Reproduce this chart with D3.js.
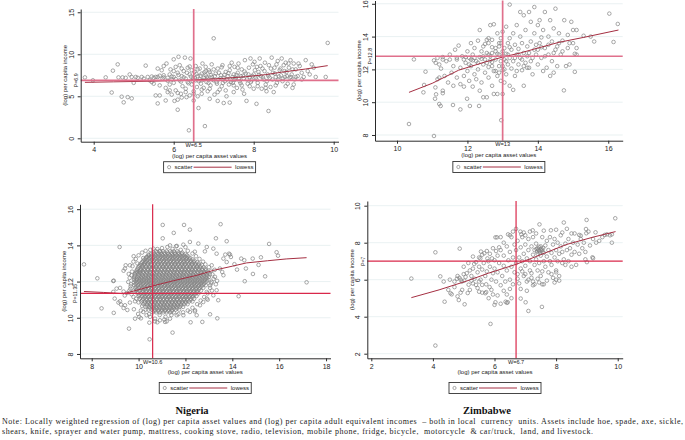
<!DOCTYPE html>
<html>
<head>
<meta charset="utf-8">
<script src="https://cdn.jsdelivr.net/npm/d3@7"></script>
<style>
  html, body { margin: 0; padding: 0; background: #ffffff; }
  svg { display: block; }
</style>
</head>
<body>
<svg id="chart" width="685" height="440"></svg>
<script>
// ---------------- DATA ----------------
// Panel 1 (top-left)
const p1XTicks = [4, 6, 8, 10];
const p1YTicks = [0, 5, 10, 15];
const p1W = 6.5, p1P = 6.9;
const p1Lowess = [[3.78,6.66],[4.5,6.72],[5.5,6.8],[6.5,6.94],[7.2,7.12],[7.8,7.33],[8.3,7.58],[8.7,7.87],[9.3,8.25],[9.85,8.65]];
const p1Points = [
[3.78,7.25],[3.98,6.9],[4.3,7.25],[4.45,5.45],[4.48,8.05],[4.6,8.8],[4.62,7.25],[4.7,4.95],[4.75,4.28],[4.72,7.25],[4.8,7.2],[4.85,4.9],[4.95,4.75],[4.9,7.6],[4.95,7.3],[5.0,6.6],[5.05,7.3],[5.1,7.2],[5.2,7.3],[5.25,7.1],[5.3,8.65],[5.35,7.3],[5.4,6.9],[5.45,7.35],[5.5,6.5],[5.5,7.2],[5.55,5.1],[5.6,4.15],[5.6,7.3],[5.6,8.3],[5.65,5.1],[5.65,6.3],[5.7,8.1],[5.72,7.1],[5.75,7.5],[5.75,8.6],[5.8,4.5],[5.8,6.0],[5.82,8.9],[5.85,7.2],[5.85,5.5],[5.9,7.6],[5.9,6.4],[5.92,8.2],[5.95,7.0],[5.95,5.2],[6.0,9.4],[6.0,7.3],[6.0,6.6],[6.02,4.45],[6.05,8.5],[6.05,5.7],[6.1,3.4],[6.1,7.8],[6.1,4.6],[6.12,9.7],[6.15,6.9],[6.15,8.7],[6.18,5.3],[6.2,7.4],[6.2,4.85],[6.22,6.2],[6.25,8.0],[6.28,9.6],[6.3,7.1],[6.3,5.9],[6.32,4.9],[6.35,8.4],[6.35,6.7],[6.38,0.95],[6.4,7.6],[6.4,5.1],[6.42,9.5],[6.45,6.4],[6.45,8.1],[6.48,7.2],[6.5,5.6],[6.5,4.5],[6.52,7.9],[6.55,6.9],[6.55,8.6],[6.58,6.1],[6.6,7.4],[6.6,5.0],[6.62,3.6],[6.65,7.0],[6.65,8.3],[6.68,6.5],[6.7,7.7],[6.7,5.3],[6.72,8.9],[6.75,7.2],[6.75,6.0],[6.78,1.45],[6.8,7.5],[6.8,8.5],[6.82,6.7],[6.85,5.6],[6.85,7.1],[6.88,8.1],[6.9,7.9],[6.9,4.7],[6.92,6.3],[6.95,7.3],[6.95,8.8],[7.0,11.9],[7.0,6.9],[7.02,5.2],[7.05,7.7],[7.08,6.5],[7.1,8.3],[7.1,4.45],[7.12,7.0],[7.15,5.8],[7.18,7.5],[7.2,6.2],[7.22,8.7],[7.25,4.2],[7.25,7.2],[7.28,6.8],[7.3,7.9],[7.32,5.0],[7.35,7.4],[7.38,6.4],[7.4,4.25],[7.4,8.1],[7.42,7.0],[7.45,9.0],[7.48,6.6],[7.5,7.6],[7.5,5.5],[7.52,8.5],[7.55,7.2],[7.58,6.0],[7.6,7.8],[7.62,8.9],[7.65,6.8],[7.68,7.4],[7.7,8.2],[7.72,5.8],[7.75,7.1],[7.76,5.3],[7.78,9.3],[7.8,7.7],[7.82,4.45],[7.85,6.5],[7.88,8.4],[7.9,7.3],[7.92,9.5],[7.95,6.9],[7.98,8.8],[8.0,7.6],[8.0,5.9],[8.02,9.1],[8.05,7.2],[8.07,4.1],[8.08,8.5],[8.1,6.6],[8.12,7.9],[8.15,9.5],[8.18,7.4],[8.2,5.9],[8.22,8.3],[8.25,7.0],[8.28,9.0],[8.3,6.4],[8.32,5.6],[8.35,7.6],[8.37,3.25],[8.38,8.7],[8.4,7.2],[8.42,6.1],[8.45,9.6],[8.48,7.8],[8.5,5.5],[8.52,8.4],[8.55,7.3],[8.58,6.6],[8.6,9.2],[8.62,7.0],[8.65,8.1],[8.68,7.5],[8.7,9.5],[8.72,6.8],[8.75,8.7],[8.78,7.3],[8.8,9.0],[8.82,7.9],[8.85,6.5],[8.88,8.4],[8.9,7.2],[8.92,9.3],[8.95,7.6],[8.97,6.0],[9.0,8.9],[9.02,7.0],[9.05,8.2],[9.1,7.4],[9.15,8.6],[9.2,7.8],[9.3,9.3],[9.35,8.0],[9.45,8.8],[9.5,8.4],[9.55,7.3],[9.8,7.3],[9.85,11.35],
[6.05,7.05],[6.12,7.55],[6.18,6.75],[6.25,7.25],[6.33,7.8],[6.37,6.55],[6.43,7.35],[6.47,6.85],[6.53,7.15],[6.57,7.65],[6.63,6.8],[6.67,7.45],[6.73,6.95],[6.77,7.85],[6.83,7.3],[6.87,6.6],[6.93,7.55],[6.97,7.0],[7.03,7.4],[7.07,6.7],[7.13,7.8],[7.17,7.15],[7.23,6.6],[7.27,7.55],[7.33,7.0],[7.37,7.75],[7.43,6.7],[7.47,7.3],[7.53,6.95],[7.57,7.55],[7.63,7.1],[7.67,6.55],[7.73,7.45],[7.77,7.95],[7.83,7.0],[7.87,7.6],[7.93,6.7],[7.97,7.4],[8.03,8.1],[8.07,7.0],[8.13,7.55],[8.17,8.6],[8.23,7.25],[8.27,8.0],[8.33,6.8],[8.37,7.4],[8.43,8.3],[8.47,7.0],[8.53,7.7],[8.57,8.8],[8.63,7.35],[8.67,8.3],[8.73,7.1],[8.77,8.0],[8.83,7.4],[8.87,8.9],[8.93,7.3],[8.97,8.2],[9.05,7.3],[9.12,8.9],[9.25,7.3],[9.4,7.6],[5.95,7.35],[5.85,6.85],[5.75,7.25],[5.65,7.45],[5.55,7.3],[5.45,6.7],[6.0,8.0],[6.2,8.3],[6.4,8.55],[6.6,8.2],[6.8,8.0],[7.0,8.2],[7.2,8.45],[7.4,8.6],[7.6,8.4],[5.9,5.7],[6.1,5.4],[6.3,5.5],[6.5,5.3],[6.7,5.8],[6.9,5.9],[7.1,5.5],[7.3,5.7],[7.5,6.3],[7.7,6.3],[7.9,6.2],[8.1,6.2],[8.3,6.0],[8.55,6.3],[8.8,6.2],[9.0,6.4],[9.2,7.0]
];

// Panel 2 (top-right)
const p2XTicks = [10, 12, 14, 16];
const p2YTicks = [8, 10, 12, 14, 16];
const p2W = 13, p2P = 12.8;
const p2Lowess = [[10.34,10.6],[11,11.15],[11.75,11.95],[12.5,12.45],[13,12.75],[13.5,13.0],[14,13.3],[14.6,13.65],[15.3,13.95],[16.29,14.4]];
const p2Points = [
[10.34,8.67],[11.05,7.94],[12.96,8.9],[13.2,15.95],[16.03,15.4],[16.27,14.77],[16.15,13.67],[14.74,10.72],[10.48,12.61],[10.81,11.86],[10.75,10.6],[10.77,11.05],[11.09,10.9],[11.11,10.48],[11.08,10.21],[11.2,9.89],[11.24,9.77],[11.59,9.83],[11.8,9.56],[11.99,10.21],[12.07,9.77],[12.33,9.77],
[11.05,12.55],[11.1,12.4],[11.15,12.7],[11.2,12.3],[11.15,11.4],[11.2,11.5],[11.25,12.05],[11.3,12.6],[11.3,10.7],[11.3,10.55],[11.35,11.6],[11.4,12.5],[11.45,11.2],[11.5,12.9],[11.55,11.8],[11.6,12.2],[11.6,11.0],[11.65,13.2],[11.7,12.6],[11.7,11.5],[11.75,13.45],[11.8,11.1],[11.8,12.1],[11.85,12.8],[11.9,11.6],[11.9,10.95],[11.95,12.4],[12.0,13.1],[12.0,11.9],[12.05,12.7],[12.05,11.3],[12.1,13.6],[12.1,12.2],[12.15,10.95],[12.15,12.9],[12.2,11.7],[12.2,13.3],[12.25,12.5],[12.25,11.4],[12.3,13.75],[12.3,12.0],[12.35,14.4],[12.35,12.75],[12.35,10.7],[12.4,11.2],[12.4,13.1],[12.45,12.3],[12.45,10.3],[12.5,13.55],[12.5,11.8],[12.5,12.6],[12.55,10.3],[12.55,13.0],[12.6,12.15],[12.6,13.9],[12.6,11.5],[12.65,12.8],[12.65,14.7],[12.7,11.0],[12.7,13.35],[12.7,12.45],[12.75,14.75],[12.75,11.9],[12.75,10.5],[12.8,13.1],[12.8,12.6],[12.85,14.2],[12.85,11.6],[12.85,10.5],[12.9,13.6],[12.9,12.2],[12.9,12.9],[12.95,11.3],[12.95,13.9],[12.95,12.5],[13.0,12.8],[13.0,14.3],[13.0,11.95],[13.0,10.5],[13.05,13.3],[13.05,12.6],[13.05,11.2],[13.1,14.6],[13.1,12.95],[13.1,11.7],[13.15,13.6],[13.15,12.3],[13.2,13.9],[13.2,12.7],[13.2,11.0],[13.25,13.2],[13.25,12.05],[13.3,14.2],[13.3,12.5],[13.3,10.75],[13.35,13.5],[13.35,11.6],[13.4,12.9],[13.4,14.7],[13.4,11.9],[13.45,13.25],[13.45,12.3],[13.5,15.5],[13.5,14.0],[13.5,12.7],[13.55,13.6],[13.55,11.95],[13.6,15.3],[13.6,13.0],[13.6,11.0],[13.65,14.4],[13.65,12.4],[13.7,13.4],[13.7,12.8],[13.75,15.5],[13.75,12.1],[13.8,14.9],[13.8,13.7],[13.8,12.5],[13.85,11.7],[13.9,15.8],[13.9,13.2],[13.9,14.2],[13.95,12.9],[14.0,14.7],[14.0,12.3],[14.05,13.6],[14.05,15.0],[14.1,12.7],[14.1,13.95],[14.15,11.9],[14.15,14.4],[14.2,13.3],[14.2,15.5],[14.25,12.1],[14.3,14.0],[14.3,12.9],[14.35,11.6],[14.35,15.0],[14.4,13.7],[14.4,12.5],[14.45,14.5],[14.45,11.8],[14.5,13.2],[14.5,15.7],[14.55,12.2],[14.6,14.2],[14.6,13.6],[14.65,12.9],[14.7,13.75],[14.75,15.0],[14.8,12.2],[14.85,14.1],[14.9,13.6],[14.9,12.3],[14.95,14.9],[15.0,14.4],[15.05,11.85],[15.1,13.3],[15.1,12.9],[15.1,14.4],[15.3,14.05],[15.5,14.0],[15.6,13.7],
[11.3,12.75],[11.5,12.6],[11.7,12.7],[11.9,12.6],[12.1,12.6],[12.6,12.9],[12.7,13.0],[12.8,13.3],[12.9,13.4],[13.0,13.1],[12.95,13.6],[12.85,12.95],[13.1,12.5],[13.15,12.9],[13.2,13.35],[12.7,12.2],[12.8,11.9],[12.9,11.8],[13.0,12.2],[13.05,12.0],[12.55,12.4],[12.65,12.55],[12.45,12.8],[12.4,12.65],[12.3,12.4],[12.2,12.7],[12.15,12.55],[12.05,12.3],[11.95,12.75],[12.6,13.6],[12.7,13.8],[12.55,13.8],[12.45,13.4],[13.35,12.7],[13.45,12.9],[13.55,12.6],[13.6,12.2],[13.7,12.1],[13.75,13.0],[13.85,12.7],[13.95,13.5],[14.0,13.2],[14.1,13.35],[14.2,12.8],[14.3,13.5],[14.45,13.0],[14.55,13.4],[14.7,13.1],[14.85,13.3],[15.0,13.6],[15.05,12.95]
];

// Panel 3 (Nigeria)
const p3XTicks = [8, 10, 12, 14, 16, 18];
const p3YTicks = [8, 10, 12, 14, 16];
const p3W = 10.6, p3P = 11.35;
const p3Lowess = [[7.67,11.45],[8.5,11.4],[9.35,11.33],[10,11.55],[10.6,11.76],[11.5,12.05],[12.5,12.35],[13.2,12.62],[14,12.85],[14.6,13.03],[15.5,13.15],[16.3,13.25],[17.17,13.32]];
const p3Outer = [
[7.67,12.95],[8.24,12.18],[8.42,10.52],[8.94,12.05],[8.94,10.27],[9.19,13.91],[9.59,9.4],[10.47,8.81],[11.03,15.13],[11.94,15.13],[11.5,14.69],[12.19,14.87],[13.5,15.17],[11.03,14.39],[13.3,14.39],[13.76,14.23],[15.57,14.08],[15.89,13.62],[15.95,13.43],[17.17,11.96],[14.53,12.02],[14.27,11.19],[15.4,12.29],[15.12,12.92],[15.22,13.34],[14.87,13.27],[14.88,12.42],[14.58,12.72],[14.38,13.27],[14.51,13.18],[14.2,12.66],[14.09,12.96],[13.7,13.49],[13.86,13.54],[13.94,13.36],[13.57,12.53],[13.35,12.04],[13.13,11.5],[13.05,10.19],[13.36,9.97],[12.72,9.77],[12.22,9.75],[11.45,9.18],[10.7,9.8],[10.8,9.75],[11.1,9.9],[11.2,9.8],[10.46,9.73],[10.1,9.97],[8.98,11.06],[9.58,12.42],[9.36,12.6],[9.45,12.9],[9.79,13.4],
[8.92,12.03],[9.41,11.23],[9.51,11.37],[9.61,11.5],[9.66,11.74],[9.06,11.61],[9.21,11.65],[9.36,11.45],[8.92,11.43],[9.14,10.84],[9.25,10.73],[9.42,10.69],[9.36,10.54],[9.21,10.91],[9.78,11.15],[9.85,10.91],[9.63,10.84],[9.52,10.43],[9.8,10.47],[9.98,10.21],[10.2,10.32],[10.34,10.14],[9.85,9.95],[10.03,10.05],[9.42,12.72],[9.63,12.9],[9.7,12.35],[9.92,12.16],[9.56,11.98],[9.95,12.5],[10.06,12.62],[10.13,12.9],[10.27,13.08],[10.34,13.36],[10.42,13.49],[10.63,13.82],[10.91,13.67],[11.23,13.91],[11.34,14.0],[11.63,13.97],[11.91,14.04],[12.19,14.19],[12.55,14.1],[12.91,13.91],[12.83,13.67],[13.19,13.82],[13.33,13.54],[13.62,13.27],[13.76,13.08],[13.9,13.49],[13.12,12.9],[13.47,12.72],[13.62,12.35],[13.26,12.26],[13.12,11.98],[13.33,11.52],[13.19,11.24],[12.91,11.06],[12.76,10.87],[12.62,10.69],[12.41,10.41],[12.19,10.32],[11.91,10.14],[11.63,10.14],[11.34,9.95],[11.13,9.77],[10.91,9.86],[10.7,9.95],[10.49,10.05],[12.91,11.43],[13.05,11.79],[13.4,10.97],[12.48,10.14],
[9.62,12.2],[9.68,11.85],[9.72,12.55],[9.65,11.6],[9.74,12.85],[9.7,11.3],[9.78,13.1],[9.88,13.25],[10.0,13.45],[10.15,13.6],[10.3,13.7],[10.5,13.75],[10.8,13.8],[11.0,13.85],[11.45,13.8],[11.8,13.75],[12.1,13.7],[12.3,13.55],[12.45,13.4],[12.6,13.25],[12.75,13.1],[12.85,12.95],[13.0,12.8],[13.1,12.6],[13.15,12.4],[13.2,12.15],[13.1,11.9],[13.05,11.65],[12.95,11.35],[12.8,11.15],[12.65,10.95],[12.5,10.75],[12.3,10.55],[12.1,10.4],[11.9,10.3],[11.7,10.2],[10.45,10.2],[10.3,10.45],[10.15,10.65],[10.0,10.85],[9.9,11.05],[9.8,11.5],[11.4,10.15],[10.9,10.15],[11.15,10.05],[12.4,13.65],[11.6,13.95],[12.0,13.9],[10.2,13.3],[9.95,13.0],[13.25,12.65],[13.3,11.85],[12.95,11.0],[12.4,10.35],[10.1,10.4]
];
// dense core of the Nigeria cloud, one row per income level: [y, [x values]]
const p3CoreRows = [
[13.675,[10.75,10.9,11.05,11.2,11.35,11.5,11.65]],
[13.6,[10.62,10.78,10.95,11.1,11.24,11.4,11.55,11.7,11.86]],
[13.525,[10.53,10.68,10.83,10.98,11.12,11.27,11.42,11.56,11.71,11.85,12.0]],
[13.45,[10.45,10.6,10.74,10.9,11.03,11.18,11.33,11.47,11.62,11.77,11.92,12.06]],
[13.375,[10.39,10.54,10.68,10.83,10.97,11.12,11.26,11.41,11.55,11.7,11.84,11.99,12.13]],
[13.3,[10.32,10.47,10.61,10.76,10.9,11.05,11.19,11.34,11.48,11.63,11.77,11.92,12.06,12.2]],
[13.225,[10.26,10.42,10.57,10.71,10.86,11.0,11.15,11.29,11.44,11.58,11.73,11.87,12.02,12.16,12.31]],
[13.15,[10.2,10.35,10.5,10.64,10.79,10.93,11.08,11.22,11.37,11.51,11.66,11.8,11.95,12.09,12.24,12.38]],
[13.075,[10.15,10.32,10.47,10.61,10.76,10.9,11.05,11.19,11.34,11.48,11.63,11.77,11.92,12.06,12.21,12.35,12.5]],
[13.0,[10.1,10.25,10.4,10.54,10.69,10.83,10.98,11.12,11.27,11.41,11.56,11.7,11.85,11.99,12.14,12.28,12.43,12.57]],
[12.925,[10.06,10.24,10.39,10.53,10.68,10.82,10.97,11.11,11.26,11.4,11.55,11.69,11.84,11.98,12.13,12.27,12.42,12.56,12.7]],
[12.85,[10.02,10.17,10.32,10.46,10.61,10.75,10.9,11.04,11.19,11.33,11.48,11.62,11.77,11.91,12.06,12.2,12.35,12.49,12.64]],
[12.775,[9.98,10.17,10.31,10.46,10.6,10.75,10.89,11.04,11.18,11.33,11.47,11.62,11.76,11.91,12.05,12.2,12.34,12.49,12.63,12.78]],
[12.7,[9.95,10.1,10.24,10.39,10.53,10.68,10.82,10.97,11.11,11.26,11.4,11.55,11.69,11.84,11.98,12.13,12.27,12.42,12.56,12.71,12.85]],
[12.625,[9.92,10.11,10.26,10.4,10.55,10.69,10.84,10.98,11.13,11.27,11.42,11.56,11.71,11.85,12.0,12.14,12.29,12.43,12.58,12.72,12.87]],
[12.55,[9.9,10.04,10.19,10.33,10.48,10.62,10.77,10.91,11.06,11.2,11.35,11.49,11.64,11.78,11.93,12.07,12.22,12.36,12.51,12.65,12.8,12.94]],
[12.475,[9.87,10.07,10.21,10.36,10.5,10.65,10.79,10.94,11.08,11.23,11.37,11.52,11.66,11.81,11.95,12.1,12.24,12.39,12.53,12.68,12.82,12.97]],
[12.4,[9.85,10.0,10.14,10.29,10.43,10.58,10.72,10.87,11.01,11.16,11.3,11.45,11.59,11.74,11.88,12.03,12.17,12.32,12.46,12.61,12.75,12.9,13.04]],
[12.325,[9.83,10.03,10.18,10.32,10.47,10.61,10.76,10.9,11.05,11.19,11.34,11.48,11.63,11.77,11.92,12.06,12.21,12.35,12.5,12.64,12.79,12.93]],
[12.25,[9.82,9.96,10.11,10.25,10.4,10.54,10.69,10.83,10.98,11.12,11.27,11.41,11.56,11.7,11.85,11.99,12.14,12.28,12.43,12.57,12.72,12.86,13.0]],
[12.175,[9.81,10.02,10.16,10.31,10.45,10.6,10.74,10.89,11.03,11.18,11.32,11.47,11.61,11.76,11.9,12.05,12.19,12.34,12.48,12.63,12.77,12.91]],
[12.1,[9.8,9.94,10.09,10.23,10.38,10.52,10.67,10.81,10.96,11.1,11.25,11.39,11.54,11.68,11.83,11.97,12.12,12.26,12.41,12.55,12.7,12.84,12.98]],
[12.025,[9.87,10.02,10.16,10.31,10.45,10.6,10.74,10.89,11.03,11.18,11.32,11.47,11.61,11.76,11.9,12.05,12.19,12.34,12.48,12.63,12.77,12.92]],
[11.95,[9.8,9.95,10.09,10.24,10.38,10.53,10.67,10.82,10.96,11.11,11.25,11.4,11.54,11.69,11.83,11.98,12.12,12.27,12.41,12.56,12.7,12.85]],
[11.875,[9.88,10.04,10.18,10.33,10.47,10.62,10.76,10.91,11.05,11.2,11.34,11.49,11.63,11.78,11.92,12.07,12.21,12.36,12.5,12.65,12.79]],
[11.8,[9.82,9.97,10.11,10.26,10.4,10.55,10.69,10.84,10.98,11.13,11.27,11.42,11.56,11.71,11.85,12.0,12.14,12.29,12.43,12.58,12.72,12.87]],
[11.725,[9.9,10.07,10.22,10.36,10.51,10.65,10.8,10.94,11.09,11.23,11.38,11.52,11.67,11.81,11.96,12.1,12.25,12.39,12.54,12.68]],
[11.65,[9.86,10.0,10.15,10.29,10.44,10.58,10.73,10.87,11.02,11.16,11.31,11.45,11.6,11.74,11.89,12.03,12.18,12.32,12.47,12.61,12.76]],
[11.575,[9.93,10.12,10.26,10.41,10.55,10.7,10.84,10.99,11.13,11.28,11.42,11.57,11.71,11.86,12.0,12.15,12.29,12.44,12.58]],
[11.5,[9.9,10.05,10.19,10.34,10.48,10.63,10.77,10.92,11.06,11.21,11.35,11.5,11.64,11.79,11.93,12.08,12.22,12.37,12.51,12.66]],
[11.425,[9.98,10.17,10.31,10.46,10.6,10.75,10.89,11.04,11.18,11.33,11.47,11.62,11.76,11.91,12.05,12.2,12.34,12.49]],
[11.35,[9.95,10.1,10.24,10.39,10.53,10.68,10.82,10.97,11.11,11.26,11.4,11.55,11.69,11.84,11.98,12.13,12.27,12.42,12.56]],
[11.275,[10.03,10.22,10.36,10.51,10.65,10.8,10.94,11.09,11.23,11.38,11.52,11.67,11.81,11.96,12.1,12.25,12.39]],
[11.2,[10.0,10.15,10.29,10.44,10.58,10.73,10.87,11.02,11.16,11.31,11.45,11.6,11.74,11.89,12.03,12.18,12.32,12.47]],
[11.125,[10.09,10.27,10.41,10.56,10.7,10.85,10.99,11.14,11.28,11.43,11.57,11.72,11.86,12.01,12.15,12.3]],
[11.05,[10.05,10.2,10.34,10.49,10.63,10.78,10.92,11.07,11.21,11.36,11.5,11.65,11.79,11.94,12.08,12.23,12.37]],
[10.975,[10.16,10.34,10.48,10.63,10.77,10.92,11.06,11.21,11.35,11.5,11.64,11.79,11.93,12.08,12.22]],
[10.9,[10.12,10.27,10.41,10.56,10.7,10.85,10.99,11.14,11.28,11.43,11.57,11.72,11.86,12.01,12.15,12.3]],
[10.825,[10.26,10.42,10.56,10.71,10.85,11.0,11.14,11.29,11.43,11.58,11.72,11.87,12.01]],
[10.75,[10.2,10.35,10.49,10.64,10.78,10.93,11.07,11.22,11.36,11.51,11.65,11.8,11.94,12.09]],
[10.675,[10.37,10.52,10.66,10.81,10.95,11.1,11.24,11.39,11.53,11.68,11.82]],
[10.6,[10.3,10.45,10.59,10.74,10.88,11.03,11.17,11.32,11.46,11.61,11.75,11.9]],
[10.525,[10.5,10.64,10.78,10.93,11.07,11.22,11.36,11.51,11.65]],
[10.45,[10.42,10.57,10.71,10.86,11.0,11.15,11.29,11.44,11.58,11.73]],
[10.375,[10.68,10.83,10.98,11.12,11.27,11.42]],
[10.3,[10.6,10.75,10.9,11.05,11.2,11.35,11.5]]
];

// Panel 4 (Zimbabwe)
const p4XTicks = [2, 4, 6, 8, 10];
const p4YTicks = [2, 4, 6, 8, 10];
const p4W = 6.7, p4P = 7;
const p4Lowess = [[3.3,5.03],[4.2,5.45],[5.1,5.93],[5.8,6.35],[6.7,6.83],[7.5,7.35],[8.35,7.91],[9.2,8.3],[9.93,8.6]];
const p4Points = [
[3.3,6.06],[4.08,7.48],[4.24,6.18],[4.08,2.44],[4.38,4.81],[4.87,7.68],[5.87,3.61],[7.1,4.31],[7.54,4.53],[6.85,4.98],[7.01,4.78],[6.36,4.81],[6.43,4.78],[6.0,4.64],[6.03,4.78],[5.03,4.67],[4.84,4.9],[4.57,5.27],[4.61,5.21],[4.8,5.1],[4.9,5.3],[5.13,5.28],[5.3,5.8],[5.7,5.27],[5.73,5.33],[5.81,5.0],[9.92,9.32],[9.81,8.0],[9.81,8.45],[9.58,8.42],[8.99,9.23],[8.25,9.09],[7.46,8.99],[7.24,8.67],[7.83,8.67],[8.95,7.1],[9.18,7.21],[9.2,7.16],[9.28,8.56],[8.97,8.74],[8.98,8.51],[8.75,8.42],[8.8,8.38],[8.5,8.5],[6.84,8.6],[6.87,8.45],[6.44,8.45],[6.03,8.29],[6.08,8.29],[5.95,7.7],[5.56,7.52],[5.67,7.43],[5.5,7.2],[5.54,7.15],[5.77,7.15],[5.92,7.15],[5.34,6.85],[5.3,6.6],[5.1,6.35],[5.06,6.15],[4.94,5.9],[4.86,6.1],[4.8,6.2],[4.78,6.05],[5.16,5.73],[5.02,5.95],[5.4,5.72],[5.6,5.72],[5.73,5.75],[5.84,5.6],[5.5,5.35],[5.6,5.3],
[4.9,6.0],[5.0,6.3],[5.2,6.5],[5.25,6.2],[5.35,6.05],[5.45,6.4],[5.5,6.7],[5.55,6.0],[5.6,6.55],[5.65,6.9],[5.7,6.2],[5.75,6.45],[5.8,7.0],[5.85,6.7],[5.9,6.0],[5.95,6.35],[6.0,7.05],[6.0,6.6],[6.05,5.9],[6.1,7.3],[6.1,6.4],[6.15,6.9],[6.2,5.7],[6.2,7.6],[6.25,6.2],[6.3,6.75],[6.3,7.3],[6.35,5.9],[6.4,7.8],[6.4,6.5],[6.45,7.05],[6.5,6.0],[6.5,7.5],[6.55,6.7],[6.55,8.3],[6.6,7.2],[6.6,5.75],[6.65,6.4],[6.65,7.9],
[6.7,6.9],[6.7,7.6],[6.75,6.3],[6.75,8.1],[6.8,7.2],[6.8,5.8],[6.85,7.75],[6.85,6.6],[6.9,7.0],[6.9,8.3],[6.95,6.2],[6.95,7.4],[7.0,7.9],[7.0,6.75],[7.05,7.15],[7.05,5.9],[7.1,7.6],[7.1,8.2],[7.15,6.5],[7.15,7.0],[7.2,7.8],[7.2,6.1],[7.25,7.35],[7.25,8.3],[7.3,6.8],[7.3,7.6],[7.3,5.75],[7.35,7.1],[7.35,7.95],[7.4,6.5],[7.4,7.4],[7.4,7.7],[7.45,7.55],[7.45,6.9],[7.5,7.8],[7.5,7.3],[7.5,6.2],[7.55,7.6],[7.55,8.3],[7.6,7.0],[7.6,7.45],[7.6,5.75],[7.65,7.85],[7.65,6.7],[7.7,7.25],[7.7,8.1],[7.75,6.4],[7.75,7.6],[7.8,7.0],[7.8,8.3],[7.85,6.8],[7.85,7.45],[7.9,7.9],[7.9,6.1],[7.95,7.2],[7.95,8.2],[8.0,6.5],[8.0,7.6],[8.0,6.0],[8.05,8.0],[8.05,7.0],[8.1,7.4],[8.1,6.2],[8.15,7.8],[8.15,8.4],[8.2,6.9],[8.2,7.5],[8.25,7.1],[8.3,7.95],[8.3,6.8],[8.35,7.6],[8.4,8.2],[8.4,7.0],[8.45,7.7],[8.5,6.7],[8.5,7.35],[8.55,8.0],[8.6,7.5],[8.6,8.5],[8.65,6.8],[8.7,7.9],[8.75,7.4],[8.8,8.2],[8.85,7.7],[8.9,8.0],[8.95,7.5],[9.0,6.95],[9.05,8.6],[9.1,7.85],[9.2,8.2],[9.3,8.0],[9.4,8.1],[9.5,8.3],[9.65,8.45],[9.75,8.4],
[7.38,7.52],[7.42,7.62],[7.47,7.45],[7.52,7.68],[7.56,7.5],[7.44,7.78],[7.36,7.66],[7.58,7.72],[7.5,7.58],
[6.75,6.05],[6.9,6.45],[7.0,6.3],[7.1,6.0],[7.2,6.35],[7.25,5.9],[7.4,6.05],[7.45,5.85],[7.55,6.45],[7.7,5.95],[7.85,6.3],[7.95,5.85],[8.0,6.4],[8.1,5.95],[6.85,5.5],[7.05,5.4],[7.25,5.7],[7.55,5.75],
[6.2,8.3],[6.3,8.0],[6.5,8.4],[6.6,8.6],[6.7,8.75],[6.95,8.55],[7.0,8.4],[7.15,8.6],[7.35,8.5],[7.6,8.65],[8.0,8.7],[8.2,8.55],[8.35,8.75],
[5.0,6.7],[5.15,6.9],[5.3,7.25],[5.4,6.95],[5.6,7.35],[5.75,7.55],[5.85,7.4],[6.05,7.55],[6.15,7.75],[5.2,5.45],[5.45,5.55],[5.9,5.45],[6.1,5.15],[6.3,5.4],[6.4,5.2],[6.5,5.5],[6.55,5.0],[5.95,5.2],[6.2,4.7],[6.4,4.75],[5.5,5.9],[5.25,5.95],[4.95,5.45],[4.7,5.6],[4.5,5.45],[4.55,6.0],[4.7,5.9],[4.35,5.9]
];

const panelTitles = ["Nigeria", "Zimbabwe"];
const noteLines = [
  "Note: Locally weighted regression of (log) per capita asset values and (log) per capita adult equivalent incomes  \u2013 both in local  currency  units. Assets include hoe, spade, axe, sickle,",
  "shears, knife, sprayer and water pump, mattress, cooking stove, radio, television, mobile phone, fridge, bicycle,  motorcycle  & car/truck,  land, and livestock."
];
const xTitle = "(log) per capita asset values";
const yTitle = "(log) per capita income";
const legendLabels = ["scatter", "lowess"];

// ---------------- LAYOUT ----------------
const p3Points = p3Outer.concat(p3CoreRows.flatMap(r => r[1].map(x => [x, r[0]])));

const panels = [
  { pts: p1Points, lowess: p1Lowess, xTicks: p1XTicks, yTicks: p1YTicks, W: p1W, P: p1P,
    left: 80.7, right: 338.5, top: 9, bottom: 141.7, xDom: [3.675, 10.12], yDom: [-0.405, 15.39],
    refColor: "#e0708c", refWidth: 1.7, legendTop: 161.7 },
  { pts: p2Points, lowess: p2Lowess, xTicks: p2XTicks, yTicks: p2YTicks, W: p2W, P: p2P,
    left: 375, right: 622.7, top: 0.5, bottom: 140.7, xDom: [9.375, 16.41], yDom: [7.652, 16.2],
    refColor: "#e0708c", refWidth: 1.7, legendTop: 161.5 },
  { pts: p3Points, lowess: p3Lowess, xTicks: p3XTicks, yTicks: p3YTicks, W: p3W, P: p3P,
    left: 80, right: 330.5, top: 204.3, bottom: 358.3, xDom: [7.5, 18.19], yDom: [7.76, 16.27],
    refColor: "#d9284a", refWidth: 1.2, legendTop: 382.5 },
  { pts: p4Points, lowess: p4Lowess, xTicks: p4XTicks, yTicks: p4YTicks, W: p4W, P: p4P,
    left: 367.3, right: 622.7, top: 201, bottom: 358.3, xDom: [1.87, 10.162], yDom: [1.751, 10.254],
    refColor: "#d9284a", refWidth: 1.2, legendTop: 382.5 }
];

const svg = d3.select("#chart");
svg.append("rect").attr("width", 685).attr("height", 440).attr("fill", "#ffffff");

const sans = "'Liberation Sans', Arial, sans-serif";
const serif = "'Liberation Serif', 'Times New Roman', serif";
const fmt = d => String(d);
const ptColor = "#838383";

function drawPanel(c) {
  const x = d3.scaleLinear().domain(c.xDom).range([c.left, c.right]);
  const y = d3.scaleLinear().domain(c.yDom).range([c.bottom, c.top]);
  const g = svg.append("g");

  g.selectAll("line.grid").data(c.yTicks).join("line")
    .attr("class", "grid")
    .attr("x1", c.left).attr("x2", c.right)
    .attr("y1", d => y(d)).attr("y2", d => y(d))
    .attr("stroke", "#e4edef").attr("stroke-width", 0.8);

  g.append("g").selectAll("circle").data(c.pts).join("circle")
    .attr("cx", d => x(d[0])).attr("cy", d => y(d[1])).attr("r", 1.8)
    .attr("fill", "none").attr("stroke", ptColor).attr("stroke-width", 0.7);

  g.append("path").datum(c.lowess)
    .attr("d", d3.line().x(d => x(d[0])).y(d => y(d[1])))
    .attr("fill", "none").attr("stroke", "#a52f42").attr("stroke-width", 1);

  g.append("line").attr("x1", x(c.W)).attr("x2", x(c.W)).attr("y1", y(c.yDom[1])).attr("y2", y(c.yDom[0]))
    .attr("stroke", c.refColor).attr("stroke-width", c.refWidth);
  g.append("line").attr("x1", x(c.xDom[0])).attr("x2", x(c.xDom[1])).attr("y1", y(c.P)).attr("y2", y(c.P))
    .attr("stroke", c.refColor).attr("stroke-width", c.refWidth);

  const xa = g.append("g").attr("transform", `translate(0,${c.bottom})`)
    .call(d3.axisBottom(x).tickValues(c.xTicks).tickFormat(fmt).tickSize(3).tickSizeOuter(0).tickPadding(2.5));
  xa.selectAll("text").attr("font-family", sans).attr("font-size", 7).attr("fill", "#222");
  xa.selectAll("line, path").attr("stroke", "#2a2a2a");
  xa.select(".domain").attr("stroke-width", 1);

  const ya = g.append("g").attr("transform", `translate(${c.left},0)`)
    .call(d3.axisLeft(y).tickValues(c.yTicks).tickFormat(fmt).tickSize(3).tickSizeOuter(0));
  ya.selectAll("text")
    .attr("x", 0).attr("y", 0).attr("dy", "0.35em")
    .attr("transform", "translate(-9.5,0) rotate(-90)")
    .attr("text-anchor", "middle")
    .attr("font-family", sans).attr("font-size", 7).attr("fill", "#222");
  ya.selectAll("line, path").attr("stroke", "#2a2a2a");
  ya.select(".domain").attr("stroke-width", 1);

  g.append("text").attr("x", x(c.W)).attr("y", c.bottom + 5.3)
    .attr("text-anchor", "middle").attr("font-family", sans).attr("font-size", 5.6).attr("fill", "#222")
    .text("W=" + c.W);
  g.append("text").attr("transform", `translate(${c.left - 4.6},${y(c.P)}) rotate(-90)`)
    .attr("dy", "0.35em").attr("text-anchor", "middle")
    .attr("font-family", sans).attr("font-size", 5.2).attr("fill", "#222")
    .text("P=" + c.P);

  const cx = (c.left + c.right) / 2;
  g.append("text").attr("x", cx).attr("y", c.bottom + 16)
    .attr("text-anchor", "middle").attr("font-family", sans).attr("font-size", 6).attr("fill", "#222")
    .text(xTitle);
  g.append("text").attr("transform", `translate(${c.left - 15.8},${(c.top + c.bottom) / 2}) rotate(-90)`)
    .attr("dy", "0.35em").attr("text-anchor", "middle")
    .attr("font-family", sans).attr("font-size", 6).attr("fill", "#222")
    .text(yTitle);

  const lw = 92, lh = 11, lx = cx - lw / 2, ly = c.legendTop;
  const lg = g.append("g");
  lg.append("rect").attr("x", lx).attr("y", ly).attr("width", lw).attr("height", lh)
    .attr("fill", "#fff").attr("stroke", "#333").attr("stroke-width", 0.9);
  lg.append("circle").attr("cx", lx + 5.5).attr("cy", ly + lh / 2).attr("r", 1.6)
    .attr("fill", "none").attr("stroke", ptColor).attr("stroke-width", 0.7);
  lg.append("text").attr("x", lx + 11).attr("y", ly + lh / 2).attr("dy", "0.35em")
    .attr("font-family", sans).attr("font-size", 6).attr("fill", "#222").text(legendLabels[0]);
  lg.append("line").attr("x1", lx + 30).attr("x2", lx + 68).attr("y1", ly + lh / 2).attr("y2", ly + lh / 2)
    .attr("stroke", "#a52f42").attr("stroke-width", 1);
  lg.append("text").attr("x", lx + 71.5).attr("y", ly + lh / 2).attr("dy", "0.35em")
    .attr("font-family", sans).attr("font-size", 6).attr("fill", "#222").text(legendLabels[1]);
}

panels.forEach(drawPanel);

const titleX = [192, 487];
svg.selectAll("text.ptitle").data(panelTitles).join("text")
  .attr("class", "ptitle")
  .attr("x", (d, i) => titleX[i]).attr("y", 414)
  .attr("text-anchor", "middle").attr("font-family", serif).attr("font-weight", "bold")
  .attr("font-size", 10.5).attr("fill", "#111").text(d => d);

const noteY = [423.5, 433.8];
const noteLen = [681, 591];
svg.selectAll("text.note").data(noteLines).join("text")
  .attr("class", "note")
  .attr("x", 2).attr("y", (d, i) => noteY[i])
  .attr("textLength", (d, i) => noteLen[i]).attr("lengthAdjust", "spacing")
  .attr("xml:space", "preserve")
  .attr("font-family", serif).attr("font-size", 8).attr("fill", "#222")
  .text(d => d);
</script>
</body>
</html>
